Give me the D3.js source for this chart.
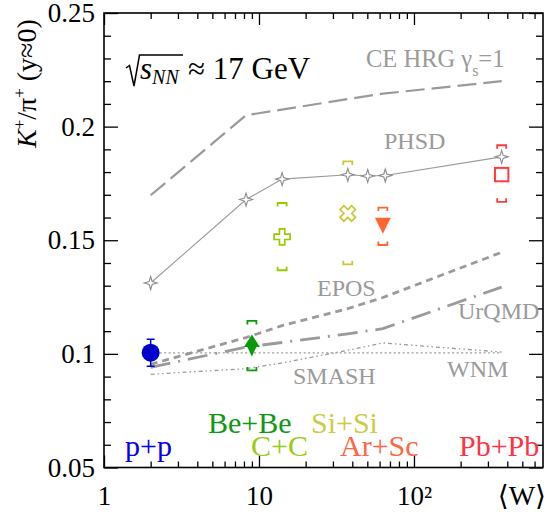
<!DOCTYPE html>
<html>
<head>
<meta charset="utf-8">
<script src="https://cdn.jsdelivr.net/npm/d3@7"></script>
<style>
  html, body { margin: 0; padding: 0; background: #fff; }
</style>
</head>
<body>
<svg id="chart" width="547" height="520"></svg>
<script>
// ---------------- data ----------------
const systems   = ["p+p", "Be+Be", "C+C", "Si+Si", "Ar+Sc", "Pb+Pb"];
const sysColors = ["#0000dd", "#0a990a", "#99cc00", "#c8c83a", "#ff6633", "#ff3b3b"];
const dataW     = [2, 9.0, 14.1, 37.4, 63, 368];
const dataK     = [0.1005, 0.1037, 0.1515, 0.1618, 0.1566, 0.1789];
const statErr   = [0.0059, 0, 0, 0, 0, 0];
const sysLo     = [null, 0.0927, 0.1368, 0.1394, 0.1479, 0.1669];
const sysHi     = [null, 0.1145, 0.1664, 0.1847, 0.1644, 0.1918];

const phsdW  = [2, 8.25, 14.1, 37.4, 50.3, 65.3, 368];
const phsdK  = [0.1312, 0.1679, 0.1769, 0.1788, 0.1783, 0.1785, 0.1867];
const hrgW   = [2, 8.25, 37.4, 63, 368];
const hrgK   = [0.1698, 0.2050, 0.2121, 0.2145, 0.2200];
const modelW = [2, 8.25, 14.1, 37.4, 63, 368];
const eposK  = [0.0954, 0.1072, 0.1124, 0.1199, 0.1248, 0.1447];
const urqmdK = [0.0941, 0.1030, 0.1050, 0.1088, 0.1111, 0.1294];
const smashK = [0.0910, 0.0935, 0.0960, 0.1016, 0.1048, 0.1008];
const wnmW   = [2, 368];
const wnmK   = [0.1004, 0.1004];

const xMajor = [1, 10, 100];
const xMajorLabels = ["1", "10", "10²"];
const yMajor = [0.05, 0.1, 0.15, 0.2, 0.25];
const yMajorLabels = ["0.05", "0.1", "0.15", "0.2", "0.25"];

// ---------------- layout ----------------
const FONT = "'Liberation Serif', 'Times New Roman', Tinos, 'DejaVu Serif', serif";
const L = 104, R = 543, T = 13, B = 467.5;
const svg = d3.select("#chart").attr("font-family", FONT).style("font-family", FONT);
const x = d3.scaleLog().domain([1, 680]).range([L, R]);
const y = d3.scaleLinear().domain([0.05, 0.25]).range([B, T]);

const xMinor = [];
[1, 10, 100].forEach(d => { for (let k = 2; k <= 9; k++) { const v = d * k; if (v < 680) xMinor.push(v); } });
const yMinor = d3.range(0.05, 0.2501, 0.01).map(v => +v.toFixed(2)).filter(v => !yMajor.includes(v));

// axes (ticks pointing inward)
function axisGroup(axis, tr) {
  const g = svg.append("g").attr("transform", tr).call(axis);
  g.attr("font-family", FONT).style("font-family", FONT);
  g.select(".domain").remove();
  g.selectAll("line").attr("stroke", "#000").attr("stroke-width", 1.3);
  return g;
}
axisGroup(d3.axisBottom(x).tickValues(xMinor).tickSize(-6).tickFormat(""), `translate(0,${B})`);
axisGroup(d3.axisTop(x).tickValues(xMinor).tickSize(-6).tickFormat(""), `translate(0,${T})`);
axisGroup(d3.axisTop(x).tickValues(xMajor).tickSize(-12).tickFormat(""), `translate(0,${T})`);
const gxb = axisGroup(d3.axisBottom(x).tickValues(xMajor).tickSize(-12).tickPadding(18)
  .tickFormat((d, i) => xMajorLabels[i]), `translate(0,${B})`);
gxb.selectAll("text").attr("font-size", 27).attr("fill", "#000")
  .attr("font-family", FONT).style("font-family", FONT);

axisGroup(d3.axisRight(y).tickValues(yMinor).tickSize(-7).tickFormat(""), `translate(${R},0)`);
axisGroup(d3.axisRight(y).tickValues(yMajor).tickSize(-14).tickFormat(""), `translate(${R},0)`);
axisGroup(d3.axisLeft(y).tickValues(yMinor).tickSize(-7).tickFormat(""), `translate(${L},0)`);
const gyl = axisGroup(d3.axisLeft(y).tickValues(yMajor).tickSize(-14).tickPadding(9)
  .tickFormat((d, i) => yMajorLabels[i]), `translate(${L},0)`);
gyl.selectAll("text").attr("font-size", 27).attr("fill", "#000")
  .attr("font-family", FONT).style("font-family", FONT);

// frame
svg.append("rect").attr("x", L).attr("y", T).attr("width", R - L).attr("height", B - T)
  .attr("fill", "none").attr("stroke", "#000").attr("stroke-width", 1.6);

// ---------------- model curves ----------------
const line = d3.line().x(d => x(d[0])).y(d => y(d[1]));
const grey = "#9a9a9a";
function curve(ws, ks, width, dash) {
  svg.append("path").datum(ws.map((w, i) => [w, ks[i]])).attr("d", line)
    .attr("fill", "none").attr("stroke", grey).attr("stroke-width", width)
    .attr("stroke-dasharray", dash);
}
curve(hrgW, hrgK, 2.2, "19,7");
curve(modelW, eposK, 2.8, "7,5");
curve(modelW, urqmdK, 2.8, "20,8,2,8");
curve(modelW, smashK, 1.3, "4,3,1.5,3,1.5,3");
curve(wnmW, wnmK, 1.3, "2,2.5");
curve(phsdW, phsdK, 1.1, null);

// PHSD stars
const starPath = "M0,-6.5 L1.5,-1.5 L6.5,0 L1.5,1.5 L0,6.5 L-1.5,1.5 L-6.5,0 L-1.5,-1.5 Z";
svg.append("g").selectAll("path").data(phsdW).join("path")
  .attr("transform", (d, i) => `translate(${x(d)},${y(phsdK[i])})`)
  .attr("d", starPath).attr("fill", "#fff").attr("stroke", "#8c8c8c").attr("stroke-width", 1.1);

// ---------------- data points ----------------
dataW.forEach((w, i) => {
  if (sysLo[i] === null) return;
  const cx = x(w), c = sysColors[i];
  const yh = y(sysHi[i]), yl = y(sysLo[i]);
  svg.append("path").attr("d", `M${cx - 4.5},${yh + 3.5}V${yh}H${cx + 4.5}V${yh + 3.5}`)
    .attr("fill", "none").attr("stroke", c).attr("stroke-width", 1.8);
  svg.append("path").attr("d", `M${cx - 4.5},${yl - 3.5}V${yl}H${cx + 4.5}V${yl - 3.5}`)
    .attr("fill", "none").attr("stroke", c).attr("stroke-width", 1.8);
});

{
  const cx = x(dataW[0]), c = sysColors[0];
  const y1 = y(dataK[0] + statErr[0]), y2 = y(dataK[0] - statErr[0]);
  svg.append("path").attr("d", `M${cx},${y1}V${y2}M${cx - 4},${y1}H${cx + 4}M${cx - 4},${y2}H${cx + 4}`)
    .attr("stroke", c).attr("stroke-width", 1.5).attr("fill", "none");
  svg.append("circle").attr("cx", cx).attr("cy", y(dataK[0])).attr("r", 9).attr("fill", "#0000cc");
}
svg.append("path").attr("transform", `translate(${x(dataW[1])},${y(dataK[1])})`)
  .attr("d", "M0,-11 L8,1.5 L4.5,1.5 L0,11 L-4.5,1.5 L-8,1.5 Z").attr("fill", sysColors[1]);
svg.append("path").attr("transform", `translate(${x(dataW[2])},${y(dataK[2])})`)
  .attr("d", d3.symbol(d3.symbolCross, 142)()).attr("fill", "#fff")
  .attr("stroke", sysColors[2]).attr("stroke-width", 1.7);
svg.append("path").attr("transform", `translate(${x(dataW[3])},${y(dataK[3])}) rotate(45)`)
  .attr("d", d3.symbol(d3.symbolCross, 150)()).attr("fill", "#fff")
  .attr("stroke", sysColors[3]).attr("stroke-width", 1.7);
svg.append("path").attr("transform", `translate(${x(dataW[4])},${y(dataK[4])})`)
  .attr("d", "M-8,-7.5 L8,-7.5 L0,8.5 Z").attr("fill", sysColors[4]);
svg.append("rect").attr("x", x(dataW[5]) - 6.7).attr("y", y(dataK[5]) - 6.7)
  .attr("width", 13.4).attr("height", 13.4).attr("fill", "none")
  .attr("stroke", sysColors[5]).attr("stroke-width", 2);

// ---------------- texts ----------------
function txt(s, px, py, size, color, anchor) {
  return svg.append("text").attr("x", px).attr("y", py).attr("font-size", size)
    .attr("font-family", FONT).style("font-family", FONT)
    .attr("fill", color).attr("text-anchor", anchor || "start").text(s);
}
txt("PHSD", 384, 149, 24, grey);
txt("EPOS", 317, 296, 24, grey);
txt("UrQMD", 458, 319, 24, grey);
txt("SMASH", 293, 384, 24, grey);
txt("WNM", 447, 377, 24, grey);
{
  const t = txt("CE HRG ", 366, 66.5, 24.5, grey);
  t.append("tspan").text("γ");
  t.append("tspan").attr("font-size", 16).attr("dy", 9).text("s");
  t.append("tspan").attr("dy", -9).text("=1");
}

const sysLabelPos = [[125, 456], [208, 433], [251, 456], [311, 433], [340, 456], [459, 456]];
const sysLabelColors = ["#0000ee", "#119911", "#99cc11", "#cccc44", "#ff6644", "#ff3344"];
systems.forEach((s, i) => {
  txt(s, sysLabelPos[i][0], sysLabelPos[i][1], 30, sysLabelColors[i]);
});

svg.append("path").attr("d", "M126,68 L129.5,65.5 L134,86 L139.5,55 L183,55")
  .attr("fill", "none").attr("stroke", "#000").attr("stroke-width", 1.5);
{
  const t = txt("", 140, 79, 31, "#000");
  t.append("tspan").attr("font-style", "italic").text("s");
  t.append("tspan").attr("font-style", "italic").attr("font-size", 20).attr("dy", 5).text("NN");
  txt("≈ 17 GeV", 188, 79, 31, "#000");
}

{
  const t = svg.append("text").attr("transform", "translate(36,148) rotate(-90)")
    .attr("font-family", FONT).style("font-family", FONT)
    .attr("font-size", 28).attr("fill", "#000");
  t.append("tspan").attr("font-style", "italic").text("K");
  t.append("tspan").attr("font-size", 17).attr("dy", -11).text("+");
  t.append("tspan").attr("dy", 11).text("/π");
  t.append("tspan").attr("font-size", 17).attr("dy", -11).text("+");
  t.append("tspan").attr("dy", 11).text(" (y≈0)");
}
txt("⟨W⟩", 546, 505, 28, "#000", "end");
</script>
</body>
</html>
